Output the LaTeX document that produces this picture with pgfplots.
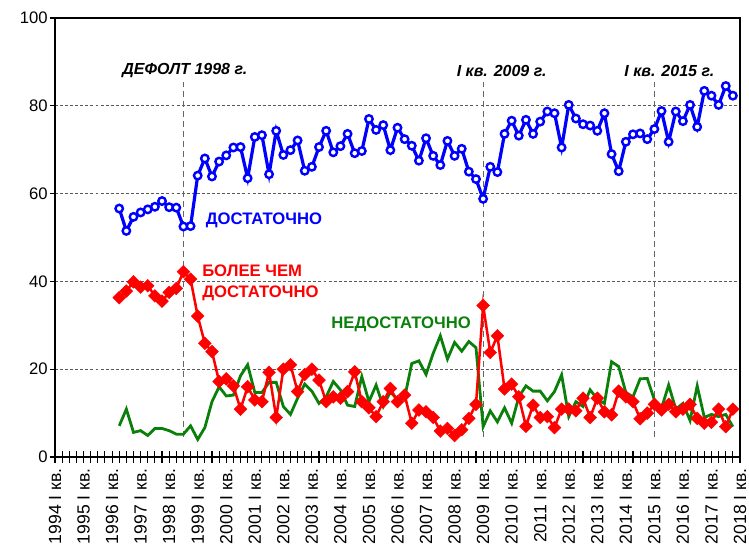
\documentclass[border=0pt]{standalone}
\usepackage{pgfplots}
\pgfplotsset{compat=1.18}
\usepackage{fontspec}
\setmainfont{Liberation Sans}
\definecolor{cblue}{RGB}{0,0,255}
\definecolor{cred}{RGB}{255,0,0}
\definecolor{cgreen}{RGB}{10,128,10}
\begin{document}
\begin{tikzpicture}
\begin{axis}[
  name=ax, at={(0,0)}, anchor=south west,
  scale only axis, width=513.75pt, height=329.25pt,
  xmin=0, xmax=96, ymin=0, ymax=100,
  xtick={0,4,...,96},
  xticklabels={1994 I кв.,1995 I кв.,1996 I кв.,1997 I кв.,1998 I кв.,1999 I кв.,2000 I кв.,2001 I кв.,2002 I кв.,2003 I кв.,2004 I кв.,2005 I кв.,2006 I кв.,2007 I кв.,2008 I кв.,2009 I кв.,2010 I кв.,2011 I кв.,2012 I кв.,2013 I кв.,2014 I кв.,2015 I кв.,2016 I кв.,2017 I кв.,2018 I кв.},
  minor xtick={0,1,...,96},
  xtick pos=left, ytick pos=left,
  tick align=center,
  major tick length=4pt, minor tick length=9pt,
  tick style={black, line width=0.8pt},
  y tick style={xshift=-2pt},
  x tick label style={yshift=-3pt, rotate=90, anchor=east, font=\fontsize{13.2}{15}\selectfont},
  y tick label style={font=\fontsize{12.5}{14}\selectfont},
  ytick={0,20,...,100},
  /pgf/number format/assume math mode=true,
  axis line style={line width=1.1pt},
  ymajorgrids,
  grid style={dash pattern=on 2.2pt off 1.6pt, black!65, line width=0.6pt},
  clip=false,
]
% vertical event lines
\addplot[gray!80!black, line width=0.7pt, dash pattern=on 4.5pt off 3pt] coordinates {(18,4.6) (18,85.4)};
\addplot[gray!80!black, line width=0.7pt, dash pattern=on 4.5pt off 3pt] coordinates {(60,4.6) (60,85.4)};
\addplot[gray!80!black, line width=0.7pt, dash pattern=on 4.5pt off 3pt] coordinates {(84,4.6) (84,85.4)};

% green: НЕДОСТАТОЧНО
\addplot[cgreen, line width=2.1pt, no marks] coordinates {
(9,7.1)(10,10.9)(11,5.6)(12,6.0)(13,4.9)(14,6.5)(15,6.5)(16,6.0)(17,5.2)(18,5.2)
(19,7.1)(20,4.0)(21,6.7)(22,12.6)(23,16.0)(24,13.9)(25,14.1)(26,18.5)(27,21.0)(28,14.7)
(29,14.7)(30,17.0)(31,17.0)(32,11.5)(33,9.7)(34,13.4)(35,16.6)(36,15.0)(37,12.2)(38,13.7)
(39,17.2)(40,15.3)(41,11.8)(42,11.5)(43,18.3)(44,12.6)(45,16.4)(46,11.5)(47,14.9)(48,13.0)
(49,13.5)(50,21.3)(51,21.9)(52,18.8)(53,23.6)(54,27.6)(55,22.3)(56,26.1)(57,24.1)(58,26.3)
(59,24.9)(60,6.9)(61,10.5)(62,8.0)(63,11.2)(64,7.7)(65,13.7)(66,16.2)(67,15.0)(68,15.0)
(69,12.8)(70,14.9)(71,18.7)(72,9.2)(73,12.6)(74,11.5)(75,15.3)(76,13.2)(77,12.2)(78,21.7)
(79,20.6)(80,14.7)(81,13.7)(82,17.8)(83,17.9)(84,13.0)(85,11.1)(86,16.4)(87,10.9)(88,12.2)
(89,8.3)(90,16.2)(91,9.0)(92,9.7)(93,9.2)(94,9.7)(95,6.9)};

% red: БОЛЕЕ ЧЕМ ДОСТАТОЧНО
\addplot[cred, line width=1.9pt, mark=square*, mark size=3.4pt, mark options={rotate=45, fill=cred, line width=0.3pt}] coordinates {
(9,36.3)(10,37.8)(11,39.9)(12,38.7)(13,39.0)(14,36.7)(15,35.5)(16,37.5)(17,38.4)(18,42.2)
(19,40.5)(20,32.1)(21,25.9)(22,24.0)(23,17.2)(24,17.8)(25,16.2)(26,10.9)(27,16.0)(28,13.0)
(29,12.6)(30,19.3)(31,9.0)(32,20.0)(33,21.0)(34,14.9)(35,18.8)(36,20.0)(37,17.5)(38,12.6)
(39,13.7)(40,13.4)(41,14.9)(42,19.4)(43,12.6)(44,11.2)(45,9.2)(46,12.6)(47,15.6)(48,12.6)
(49,14.1)(50,7.7)(51,10.7)(52,10.3)(53,9.0)(54,5.9)(55,6.5)(56,4.9)(57,6.2)(58,8.8)
(59,12.0)(60,34.5)(61,23.8)(62,27.6)(63,15.5)(64,16.6)(65,13.7)(66,7.0)(67,11.8)(68,9.0)
(69,9.2)(70,6.7)(71,10.9)(72,10.9)(73,10.5)(74,13.4)(75,9.0)(76,13.4)(77,10.3)(78,9.6)
(79,15.0)(80,13.7)(81,12.6)(82,8.7)(83,10.0)(84,12.0)(85,10.7)(86,12.0)(87,10.3)(88,10.9)
(89,12.0)(90,8.8)(91,7.7)(92,7.9)(93,10.9)(94,6.9)(95,10.9)};

% blue: ДОСТАТОЧНО
\addplot[cblue, line width=2.4pt, mark=*, mark size=2.8pt, mark options={fill=white, draw=cblue, line width=1.8pt}] coordinates {
(9,56.6)(10,51.5)(11,54.7)(12,55.7)(13,56.4)(14,57.0)(15,58.3)(16,56.9)(17,56.8)(18,52.5)
(19,52.6)(20,64.1)(21,68.0)(22,63.9)(23,67.3)(24,68.7)(25,70.5)(26,70.6)(27,63.5)(28,72.9)
(29,73.3)(30,64.4)(31,74.3)(32,68.8)(33,69.9)(34,72.1)(35,65.2)(36,66.1)(37,70.6)(38,74.3)
(39,69.4)(40,70.8)(41,73.6)(42,69.2)(43,69.7)(44,77.0)(45,74.5)(46,75.6)(47,69.9)(48,75.0)
(49,72.4)(50,70.9)(51,67.5)(52,72.6)(53,68.6)(54,66.5)(55,72.0)(56,68.6)(57,70.2)(58,65.0)
(59,63.3)(60,58.8)(61,66.1)(62,64.9)(63,73.6)(64,76.6)(65,73.2)(66,76.8)(67,73.6)(68,76.4)
(69,78.7)(70,78.3)(71,70.5)(72,80.2)(73,77.1)(74,75.8)(75,75.5)(76,74.3)(77,78.3)(78,69.0)
(79,65.1)(80,71.8)(81,73.5)(82,73.7)(83,72.4)(84,74.7)(85,78.8)(86,71.8)(87,78.7)(88,76.5)
(89,80.2)(90,75.2)(91,83.4)(92,82.3)(93,80.2)(94,84.5)(95,82.3)};

% annotations
\node[font=\fontsize{12}{14}\selectfont\bfseries\itshape, anchor=center] at (axis cs:18.2,88.0) {ДЕФОЛТ 1998 г.};
\node[font=\fontsize{12}{14}\selectfont\bfseries\itshape, anchor=center] at (axis cs:62.6,88.0) {I кв. 2009 г.};
\node[font=\fontsize{12}{14}\selectfont\bfseries\itshape, anchor=center] at (axis cs:86.1,88.0) {I кв. 2015 г.};

\node[font=\fontsize{12.5}{15.75}\selectfont\bfseries, text=cblue, anchor=west, inner sep=0pt] at (axis cs:21.1,53.8) {ДОСТАТОЧНО};
\node[font=\fontsize{12.5}{15.75}\selectfont\bfseries, text=cred, anchor=west, inner sep=0pt, align=left] at (axis cs:20.6,39.7) {БОЛЕЕ ЧЕМ\\ДОСТАТОЧНО};
\node[font=\fontsize{12.5}{15.75}\selectfont\bfseries, text=cgreen, anchor=west, inner sep=0pt] at (axis cs:38.7,30.3) {НЕДОСТАТОЧНО};
\end{axis}
\pgfresetboundingbox
\useasboundingbox (-41.25pt,-68.25pt) rectangle (520.5pt,342.75pt);
\end{tikzpicture}
\end{document}
